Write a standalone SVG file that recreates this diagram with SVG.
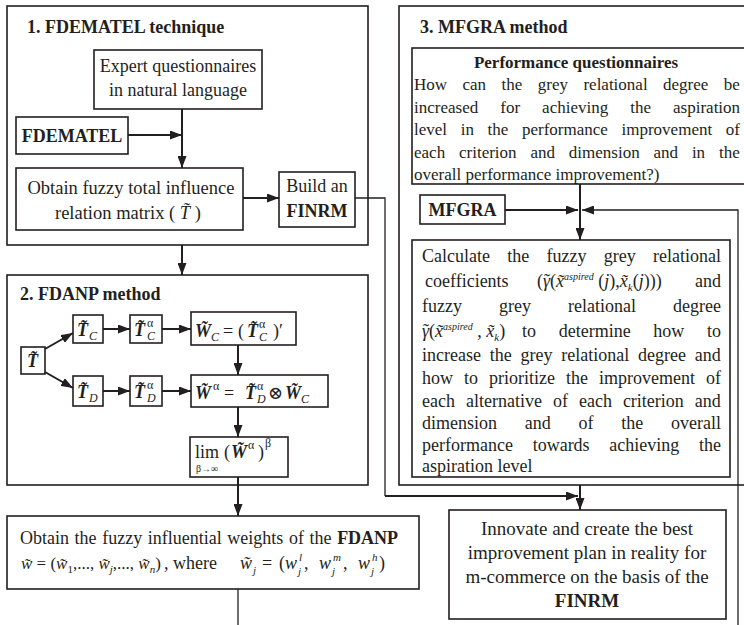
<svg xmlns="http://www.w3.org/2000/svg" width="744" height="625" viewBox="0 0 744 625">
<defs>
<style>
text{font-family:"Liberation Serif","Times New Roman",serif;fill:#231f20}
.f18{font-size:18px}
.f17{font-size:17px}
.f19{font-size:19px}
.b{font-weight:bold}
.i{font-style:italic}
.bi{font-weight:bold;font-style:italic}
.frame{fill:#fff;stroke:#231f20;stroke-width:1.6}
.box{fill:#fff;stroke:#231f20;stroke-width:1.6}
.ar{fill:none;stroke:#231f20;stroke-width:2;marker-end:url(#ah)}
.ln{fill:none;stroke:#231f20;stroke-width:1.3}
.lna{fill:none;stroke:#231f20;stroke-width:1.3;marker-end:url(#ah)}
</style>
<marker id="ah" viewBox="0 0 12 9" refX="12" refY="4.5" markerWidth="12" markerHeight="9" markerUnits="userSpaceOnUse" orient="auto"><path d="M0,0L12,4.5L0,9Z" fill="#231f20"/></marker>
</defs>
<rect x="0" y="0" width="744" height="625" fill="#fff"/>

<g id="stage1">
<rect class="frame" x="7" y="6" width="361" height="239"/>
<text class="f18 b" x="27" y="33">1. FDEMATEL technique</text>
</g>
<g id="stage2">
<rect class="frame" x="7" y="275" width="361" height="210"/>
<text class="f18 b" x="20" y="300">2. FDANP method</text>
</g>
<g id="stage3">
<rect class="frame" x="399" y="6" width="361" height="479"/>
<text class="f18 b" x="420" y="33">3. MFGRA method</text>
</g>

<g id="expert">
<rect class="box" x="94" y="50" width="168" height="59"/>
<text class="f18" text-anchor="middle"><tspan x="178" y="72">Expert questionnaires</tspan><tspan x="178" y="96">in natural language</tspan></text>
</g>
<g id="fdematel">
<rect class="box" x="16" y="117" width="112" height="37"/>
<text class="f18 b" x="72" y="142" text-anchor="middle">FDEMATEL</text>
</g>
<g id="obtainT">
<rect class="box" x="16" y="168" width="227" height="62"/>
<text x="131" y="194" font-size="18.5" text-anchor="middle">Obtain fuzzy total influence</text>
<text x="55" y="219" font-size="18.5">relation matrix ( <tspan class="i">T̃</tspan> )</text>
</g>
<g id="finrm">
<rect class="box" x="279" y="172" width="76" height="55"/>
<text class="f18" x="317" y="192" text-anchor="middle">Build an</text>
<text class="f18 b" x="317" y="217" text-anchor="middle">FINRM</text>
</g>

<g id="T">
<rect class="box" x="21" y="347" width="24" height="27"/>
<text class="f18 bi" x="27" y="367">T̃</text>
</g>
<g id="Tc">
<rect class="box" x="73" y="315" width="30" height="28"/>
<text class="f18 bi" x="77" y="336">T̃</text>
<text class="i" font-size="12" x="89" y="340">C</text>
</g>
<g id="TcA">
<rect class="box" x="130" y="315" width="32" height="28"/>
<text class="f18 bi" x="134" y="336">T̃</text>
<text font-size="12" x="147" y="327">α</text>
<text class="i" font-size="12" x="147" y="340">C</text>
</g>
<g id="Wc">
<rect class="box" x="191" y="312" width="105" height="33"/>
<text class="f18 bi" x="195" y="337">W̃</text>
<text class="i" font-size="12" x="211" y="341">C</text>
<text class="f18" x="223" y="337">=</text>
<text class="f18" x="238" y="337">(</text>
<text class="f18 bi" x="247" y="337">T̃</text>
<text font-size="12" x="259" y="328">α</text>
<text class="i" font-size="12" x="259" y="341">C</text>
<text class="f18" x="273" y="337">)′</text>
</g>
<g id="Td">
<rect class="box" x="73" y="376" width="30" height="30"/>
<text class="f18 bi" x="77" y="398">T̃</text>
<text class="i" font-size="12" x="89" y="402">D</text>
</g>
<g id="TdA">
<rect class="box" x="130" y="376" width="32" height="30"/>
<text class="f18 bi" x="134" y="398">T̃</text>
<text font-size="12" x="147" y="389">α</text>
<text class="i" font-size="12" x="147" y="402">D</text>
</g>
<g id="Wa">
<rect class="box" x="191" y="375" width="137" height="32"/>
<text class="f18 bi" x="195" y="399">W̃</text>
<text font-size="12" x="213" y="390">α</text>
<text class="f18" x="224" y="399">=</text>
<text class="f18 bi" x="245" y="399">T̃</text>
<text font-size="12" x="257" y="390">α</text>
<text class="i" font-size="12" x="257" y="403">D</text>
<text class="f18" x="268" y="399" style="font-family:'DejaVu Serif','DejaVu Sans',serif">⊗</text>
<text class="f18 bi" x="285" y="399">W̃</text>
<text class="i" font-size="12" x="301" y="403">C</text>
</g>
<g id="lim">
<rect class="box" x="190" y="437" width="98" height="40"/>
<text class="f18" x="195" y="458">lim</text>
<text font-size="10" x="196" y="472">β→∞</text>
<text class="f18" x="224" y="458">(</text>
<text class="f18 bi" x="231" y="458">W̃</text>
<text font-size="12" x="248" y="449">α</text>
<text class="f18" x="258" y="458">)</text>
<text font-size="12" x="265" y="447">β</text>
</g>

<g id="weights">
<rect class="box" x="7" y="516" width="412" height="73"/>
<text class="f18" x="20" y="544" style="word-spacing:1.1px">Obtain the fuzzy influential weights of the <tspan class="b">FDANP</tspan></text>
<text class="f17" x="21" y="569"><tspan class="i">w̃</tspan> = (<tspan class="i">w̃</tspan><tspan font-size="11" dy="4">1</tspan><tspan dy="-4">,..., </tspan><tspan class="i">w̃</tspan><tspan class="i" font-size="11" dy="4">j</tspan><tspan dy="-4">,..., </tspan><tspan class="i">w̃</tspan><tspan class="i" font-size="11" dy="4">n</tspan><tspan dy="-4">)</tspan></text>
<text class="f18" x="164" y="569">, where</text>
<text class="f18 i" x="240" y="569">w̃</text>
<text class="i" font-size="11" x="253" y="574">j</text>
<text class="f18" x="262" y="569">=</text>
<text class="f18" x="279" y="569">(</text>
<text class="f18 i" x="285" y="569">w</text>
<text class="i" font-size="11" x="298" y="575">j</text>
<text class="i" font-size="11" x="299" y="561">l</text>
<text class="f18" x="304" y="569">,</text>
<text class="f18 i" x="319" y="569">w</text>
<text class="i" font-size="11" x="332" y="575">j</text>
<text class="i" font-size="11" x="333" y="561">m</text>
<text class="f18" x="343" y="569">,</text>
<text class="f18 i" x="358" y="569">w</text>
<text class="i" font-size="11" x="371" y="575">j</text>
<text class="i" font-size="11" x="372" y="561">h</text>
<text class="f18" x="379" y="569">)</text>
</g>

<g id="perf">
<rect class="box" x="412" y="48" width="348" height="136"/>
<text class="f17 b" x="576" y="68" text-anchor="middle">Performance questionnaires</text>
<text class="f17" x="414" y="90" style="word-spacing:11.2px">How can the grey relational degree be</text>
<text class="f17" x="414" y="113" style="word-spacing:17.8px">increased for achieving the aspiration</text>
<text class="f17" x="414" y="135" style="word-spacing:9.4px">level in the performance improvement of</text>
<text class="f17" x="414" y="158" style="word-spacing:9.6px">each criterion and dimension and in the</text>
<text class="f17" x="414" y="180">overall performance improvement?)</text>
</g>
<g id="mfgra">
<rect class="box" x="420" y="195" width="85" height="29"/>
<text class="f18 b" x="462.5" y="216" text-anchor="middle">MFGRA</text>
</g>
<g id="calc">
<rect class="box" x="412" y="240" width="318" height="237"/>
<text class="f18" x="422" y="262" style="word-spacing:12.8px">Calculate the fuzzy grey relational</text>
<text class="f18" x="425" y="287">coefficients</text>
<text class="f18" x="537" y="287">(<tspan class="i">γ</tspan><tspan dx="-6">˜</tspan>(<tspan class="i">x̃</tspan><tspan class="i" font-size="10" dy="-7">aspired</tspan><tspan dy="7"> (</tspan><tspan class="i">j</tspan>),<tspan class="i">x̃</tspan><tspan class="i" font-size="11" dy="4">k</tspan><tspan dy="-4">(</tspan><tspan class="i">j</tspan>)))</text>
<text class="f18" x="721" y="287" text-anchor="end">and</text>
<text class="f18" x="422" y="312" style="word-spacing:32.5px">fuzzy grey relational degree</text>
<text class="f18" x="422" y="337"><tspan class="i">γ</tspan><tspan dx="-6">˜</tspan>(<tspan class="i">x̃</tspan><tspan class="i" font-size="10" dy="-7">aspired</tspan><tspan dy="7"> , </tspan><tspan class="i">x̃</tspan><tspan class="i" font-size="11" dy="4">k</tspan><tspan dy="-4">)</tspan></text>
<text class="f18" x="522" y="337" style="word-spacing:18.2px">to determine how to</text>
<text class="f18" x="422" y="361" style="word-spacing:4.3px">increase the grey relational degree and</text>
<text class="f18" x="422" y="384" style="word-spacing:6.5px">how to prioritize the improvement of</text>
<text class="f18" x="422" y="407" style="word-spacing:6.5px">each alternative of each criterion and</text>
<text class="f18" x="422" y="429" style="word-spacing:23.25px">dimension and of the overall</text>
<text class="f18" x="422" y="451" style="word-spacing:15.2px">performance towards achieving the</text>
<text class="f18" x="422" y="472">aspiration level</text>
</g>
<g id="innovate">
<rect class="box" x="449" y="510" width="277" height="109"/>
<text class="f19" text-anchor="middle"><tspan x="587" y="535">Innovate and create the best</tspan><tspan x="587" y="559">improvement plan in reality for</tspan><tspan x="587" y="583">m-commerce on the basis of the</tspan></text>
<text class="f19 b" x="587" y="607" text-anchor="middle">FINRM</text>
</g>

<g id="connectors">
<path class="ar" d="M182,109V168"/>
<path class="ar" d="M128,135H182"/>
<path class="ar" d="M243,198H279"/>
<path class="ln" d="M355,198H385V496"/>
<path class="ar" d="M385,496H578"/>
<path class="ar" d="M580,485V510"/>
<path class="ar" d="M182,245V275"/>
<path class="ar" d="M45,349L73,333"/>
<path class="ar" d="M45,372L73,388"/>
<path class="ar" d="M103,329H130"/>
<path class="ar" d="M162,329H191"/>
<path class="ar" d="M103,391H130"/>
<path class="ar" d="M162,391H191"/>
<path class="ar" d="M238,345V375"/>
<path class="ar" d="M238,407V437"/>
<path class="ar" d="M238,477V516"/>
<path class="ln" d="M238,589V625"/>
<path class="ar" d="M580,184V240"/>
<path class="ar" d="M505,210H578"/>
<path class="lna" d="M738,625V210H582"/>
</g>
</svg>
